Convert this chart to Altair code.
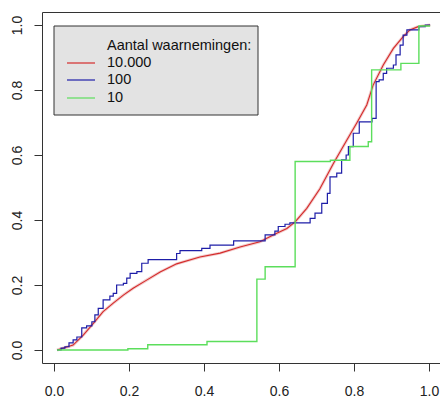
import altair as alt
import pandas as pd

# ---- data ----
series_names = ["10.000", "100", "10"]
series_colors = ["#d42a2a", "#1e1ea8", "#5cde5c"]
legend_title = "Aantal waarnemingen:"

red_x = [0.008, 0.051, 0.078, 0.105, 0.131, 0.158, 0.185, 0.211, 0.247, 0.283, 0.327,
         0.389, 0.443, 0.496, 0.549, 0.594, 0.621, 0.643, 0.674, 0.709, 0.745, 0.781,
         0.807, 0.834, 0.851, 0.878, 0.905, 0.931, 0.949, 0.971, 1.003]
red_y = [0.0, 0.015, 0.046, 0.082, 0.118, 0.144, 0.169, 0.190, 0.215, 0.240, 0.265,
         0.286, 0.298, 0.317, 0.333, 0.359, 0.374, 0.394, 0.436, 0.496, 0.574, 0.646,
         0.698, 0.754, 0.815, 0.877, 0.928, 0.964, 0.985, 0.995, 1.0]

blue_x = [0.008, 0.019, 0.029, 0.040, 0.051, 0.061, 0.074, 0.087, 0.101, 0.109, 0.118,
          0.131, 0.149, 0.158, 0.167, 0.185, 0.194, 0.203, 0.221, 0.234, 0.251, 0.327,
          0.336, 0.394, 0.416, 0.479, 0.563, 0.589, 0.598, 0.616, 0.629, 0.683, 0.696,
          0.714, 0.729, 0.736, 0.754, 0.767, 0.779, 0.785, 0.798, 0.814, 0.848, 0.859,
          0.867, 0.878, 0.887, 0.905, 0.912, 0.923, 0.931, 0.941, 0.973, 0.990, 1.003]
blue_y = [0.0, 0.006, 0.010, 0.022, 0.031, 0.040, 0.068, 0.074, 0.087, 0.108, 0.128,
          0.154, 0.166, 0.174, 0.200, 0.205, 0.221, 0.236, 0.241, 0.267, 0.278, 0.297,
          0.306, 0.313, 0.323, 0.336, 0.354, 0.366, 0.380, 0.387, 0.391, 0.405, 0.421,
          0.451, 0.482, 0.533, 0.544, 0.585, 0.600, 0.626, 0.667, 0.702, 0.713, 0.826,
          0.831, 0.851, 0.867, 0.877, 0.908, 0.938, 0.969, 0.985, 0.995, 1.0, 1.0]

green_x = [0.008, 0.197, 0.250, 0.408, 0.541, 0.563, 0.643, 0.737, 0.789, 0.838,
           0.847, 0.925, 0.973, 1.003]
green_y = [0.0, 0.004, 0.016, 0.026, 0.218, 0.256, 0.580, 0.584, 0.626, 0.641,
           0.862, 0.882, 0.997, 0.997]

tick_values = [0.0, 0.2, 0.4, 0.6, 0.8, 1.0]

df_red = pd.DataFrame({"x": red_x, "y": red_y})
df_blue = pd.DataFrame({"x": blue_x, "y": blue_y})
df_green = pd.DataFrame({"x": green_x, "y": green_y})

FONT = "Liberation Sans"
xs = alt.Scale(domain=[-0.032, 1.0293], nice=False, zero=False)
ys = alt.Scale(domain=[-0.04, 1.04], nice=False, zero=False)

x_axis = alt.Axis(values=tick_values, format=".1f", tickSize=8, labelPadding=13,
                  domain=False, grid=False, title=None, labelFontSize=14,
                  labelFont=FONT, labelColor="#222", tickColor="#333")
y_axis = alt.Axis(values=tick_values, format=".1f", tickSize=8, labelPadding=10,
                  domain=False, grid=False, title=None, labelFontSize=14,
                  labelFont=FONT, labelColor="#222", tickColor="#333",
                  labelAngle=270, labelAlign="center", labelBaseline="bottom")

X = alt.X("x:Q", scale=xs, axis=x_axis)
Y = alt.Y("y:Q", scale=ys, axis=y_axis)

halo = alt.Chart(df_red).mark_line(color="#f2cccc", strokeWidth=3).encode(x=X, y=Y)
red = alt.Chart(df_red).mark_line(color=series_colors[0], strokeWidth=1.1).encode(x=X, y=Y)
blue = alt.Chart(df_blue).mark_line(color=series_colors[1], strokeWidth=1.2,
                                     interpolate="step-after").encode(x=X, y=Y)
green = alt.Chart(df_green).mark_line(color=series_colors[2], strokeWidth=1.4,
                                       interpolate="step-after").encode(x=X, y=Y)

# ---- manual legend box ----
one = pd.DataFrame({"t": [legend_title]})
legend_box = alt.Chart(one).mark_rect(fill="#e3e3e3", stroke="#333", strokeWidth=1).encode(
    x=alt.value(12), x2=alt.value(216), y=alt.value(14), y2=alt.value(103))
legend_title_mark = alt.Chart(one).mark_text(
    align="left", baseline="middle", font=FONT, fontSize=14.5, color="#111").encode(
    x=alt.value(65), y=alt.value(34), text="t:N")

legend_layers = [legend_box, legend_title_mark]
entry_y = [51, 68, 86]
for name, col, yy in zip(series_names, series_colors, entry_y):
    d = pd.DataFrame({"t": [name]})
    legend_layers.append(
        alt.Chart(d).mark_rule(color=col, strokeWidth=1.2).encode(
            x=alt.value(25), x2=alt.value(53), y=alt.value(yy)))
    legend_layers.append(
        alt.Chart(d).mark_text(align="left", baseline="middle", font=FONT,
                               fontSize=14.5, color="#111").encode(
            x=alt.value(65), y=alt.value(yy), text="t:N"))

chart = alt.layer(halo, red, blue, green, *legend_layers).properties(
    width=398, height=351,
    padding={"left": 42, "top": 12, "right": 0, "bottom": 35},
    autosize="none",
    background="white",
).configure_view(stroke="#333", strokeWidth=1)

chart.save("out.html", embed_options={"renderer": "svg", "actions": False})
